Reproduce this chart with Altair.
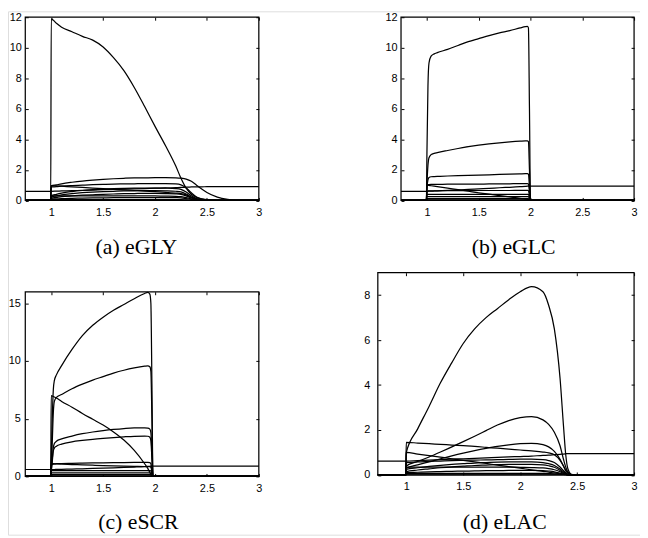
import altair as alt
import pandas as pd

W, H = 640, 530

XDOM = [0.75, 3.0]
XTICKS = [1, 1.5, 2, 2.5, 3]
CAPTIONS = ["(a) eGLY", "(b) eGLC", "(c) eSCR", "(d) eLAC"]

# ---------------- panel (a) eGLY ----------------
A_X = [0.75, 0.995, 1.0, 1.05, 1.1, 1.2, 1.3, 1.4, 1.5, 1.6, 1.7, 1.8, 1.9, 2.0,
       2.1, 2.2, 2.25, 2.3, 2.35, 2.4, 2.45, 2.5, 2.6, 2.7, 2.8, 3.0]
A_BIG = [0, 0, 11.9, 11.6, 11.35, 11.05, 10.75, 10.5, 10.05, 9.35, 8.5, 7.4, 6.15, 4.85,
         3.6, 2.25, 1.45, 0.8, 0.4, 0.2, 0.1, 0.05, 0.01, 0, 0, 0]
A_S15 = [0, 0, 0.95, 1.02, 1.09, 1.19, 1.27, 1.33, 1.38, 1.42, 1.45, 1.47, 1.48, 1.49,
         1.49, 1.48, 1.46, 1.4, 1.25, 1.0, 0.75, 0.52, 0.22, 0.07, 0.01, 0]
A_S11 = [0, 0, 0.88, 0.9, 0.93, 0.97, 1.0, 1.03, 1.05, 1.07, 1.08, 1.09, 1.1, 1.1,
         1.1, 1.08, 1.02, 0.82, 0.5, 0.22, 0.08, 0.02, 0, 0, 0, 0]
A_DESC = [0, 0, 0.97, 0.95, 0.93, 0.89, 0.85, 0.81, 0.77, 0.73, 0.69, 0.65, 0.61, 0.57,
          0.53, 0.48, 0.45, 0.36, 0.2, 0.08, 0.02, 0, 0, 0, 0, 0]
A_REF = [0.6, 0.6, 0.6, 0.61, 0.62, 0.64, 0.66, 0.68, 0.7, 0.72, 0.74, 0.76, 0.78, 0.8,
         0.82, 0.84, 0.85, 0.87, 0.88, 0.89, 0.89, 0.9, 0.9, 0.9, 0.9, 0.9]
A_S08 = [0, 0, 0.3, 0.4, 0.48, 0.58, 0.65, 0.7, 0.74, 0.77, 0.79, 0.8, 0.81, 0.81,
         0.8, 0.77, 0.72, 0.55, 0.3, 0.12, 0.04, 0.01, 0, 0, 0, 0]
A_S06 = [0, 0, 0.22, 0.3, 0.37, 0.45, 0.51, 0.55, 0.58, 0.6, 0.62, 0.63, 0.64, 0.64,
         0.63, 0.6, 0.56, 0.42, 0.22, 0.09, 0.03, 0, 0, 0, 0, 0]
A_S045 = [0, 0, 0.15, 0.2, 0.25, 0.3, 0.34, 0.37, 0.4, 0.42, 0.44, 0.45, 0.46, 0.46,
          0.45, 0.43, 0.4, 0.3, 0.16, 0.06, 0.02, 0, 0, 0, 0, 0]
A_S03 = [0, 0, 0.3, 0.3, 0.3, 0.3, 0.3, 0.3, 0.3, 0.3, 0.3, 0.3, 0.3, 0.29,
         0.28, 0.27, 0.25, 0.18, 0.1, 0.04, 0.01, 0, 0, 0, 0, 0]
A_S015 = [0, 0, 0.08, 0.1, 0.12, 0.14, 0.15, 0.16, 0.17, 0.18, 0.18, 0.19, 0.19, 0.19,
          0.19, 0.18, 0.17, 0.12, 0.06, 0.02, 0, 0, 0, 0, 0, 0]
A_S005 = [0, 0, 0.05, 0.05, 0.05, 0.05, 0.05, 0.05, 0.05, 0.05, 0.05, 0.05, 0.05, 0.05,
          0.05, 0.05, 0.05, 0.03, 0.01, 0, 0, 0, 0, 0, 0, 0]
A_ZERO = [0] * len(A_X)

# ---------------- panel (b) eGLC ----------------
B_X = [0.75, 0.995, 1.0, 1.01, 1.02, 1.04, 1.07, 1.1, 1.2, 1.3, 1.4, 1.5, 1.6, 1.7,
       1.8, 1.9, 1.95, 1.97, 1.98, 1.99, 2.0, 2.5, 3.0]
B_BIG = [0, 0, 3.0, 7.5, 9.0, 9.45, 9.6, 9.68, 9.9, 10.15, 10.4, 10.6, 10.8, 10.97,
         11.12, 11.3, 11.38, 11.4, 11.3, 6.0, 0, 0, 0]
B_S39 = [0, 0, 1.0, 2.3, 2.8, 3.0, 3.08, 3.13, 3.27, 3.4, 3.52, 3.62, 3.7, 3.77,
         3.83, 3.88, 3.9, 3.9, 3.85, 2.0, 0, 0, 0]
B_S175 = [0, 0, 0.8, 1.35, 1.5, 1.55, 1.56, 1.57, 1.6, 1.62, 1.64, 1.66, 1.68, 1.7,
          1.72, 1.74, 1.75, 1.75, 1.72, 0.9, 0, 0, 0]
B_S11 = [0, 0, 1.02, 1.03, 1.04, 1.05, 1.05, 1.05, 1.06, 1.06, 1.07, 1.07, 1.08, 1.08,
         1.09, 1.1, 1.1, 1.1, 1.08, 0.55, 0, 0, 0]
B_DIAG = [0, 0, 1.0, 0.99, 0.98, 0.96, 0.93, 0.9, 0.8, 0.7, 0.6, 0.5, 0.41, 0.32,
          0.23, 0.14, 0.09, 0.07, 0.06, 0.03, 0, 0, 0]
B_REF = [0.6, 0.6, 0.6, 0.6, 0.61, 0.61, 0.62, 0.63, 0.66, 0.69, 0.72, 0.76, 0.79, 0.83,
         0.86, 0.9, 0.92, 0.93, 0.93, 0.94, 0.94, 0.94, 0.94]
B_S065 = [0, 0, 0.6, 0.62, 0.63, 0.63, 0.63, 0.63, 0.64, 0.64, 0.64, 0.65, 0.65, 0.65,
          0.65, 0.66, 0.66, 0.66, 0.65, 0.3, 0, 0, 0]
B_S04 = [0, 0, 0.4, 0.4, 0.4, 0.4, 0.4, 0.4, 0.4, 0.4, 0.4, 0.4, 0.4, 0.4,
         0.4, 0.4, 0.4, 0.4, 0.4, 0.2, 0, 0, 0]
B_S025 = [0, 0, 0.25, 0.25, 0.25, 0.25, 0.25, 0.25, 0.25, 0.25, 0.25, 0.25, 0.25, 0.25,
          0.25, 0.25, 0.25, 0.25, 0.25, 0.12, 0, 0, 0]
B_S012 = [0, 0, 0.12, 0.12, 0.12, 0.12, 0.12, 0.12, 0.12, 0.12, 0.12, 0.12, 0.12, 0.12,
          0.12, 0.12, 0.12, 0.12, 0.12, 0.06, 0, 0, 0]
B_S004 = [0, 0, 0.04, 0.04, 0.04, 0.04, 0.04, 0.04, 0.04, 0.04, 0.04, 0.04, 0.04, 0.04,
          0.04, 0.04, 0.04, 0.04, 0.04, 0.02, 0, 0, 0]
B_ZERO = [0] * len(B_X)

# ---------------- panel (c) eSCR ----------------
C_X = [0.75, 0.995, 1.0, 1.01, 1.02, 1.03, 1.05, 1.1, 1.2, 1.3, 1.4, 1.5, 1.6, 1.7,
       1.8, 1.9, 1.93, 1.95, 1.96, 1.97, 1.98, 2.0, 2.5, 3.0]
C_BIG = [0, 0, 1.5, 5.0, 7.5, 8.3, 8.8, 9.6, 11.0, 12.2, 13.1, 13.8, 14.4, 14.9,
         15.4, 15.85, 15.95, 15.8, 15.0, 8.0, 0, 0, 0, 0]
C_S96 = [0, 0, 1.0, 3.0, 5.5, 6.5, 6.85, 7.1, 7.6, 8.0, 8.35, 8.65, 8.95, 9.2,
         9.4, 9.55, 9.58, 9.5, 9.1, 5.0, 0, 0, 0, 0]
C_DIAG = [0, 0, 7.0, 6.97, 6.93, 6.88, 6.8, 6.5, 6.0, 5.45, 4.95, 4.45, 3.85, 3.15,
          2.25, 1.1, 0.7, 0.35, 0.15, 0.05, 0, 0, 0, 0]
C_S42 = [0, 0, 0.5, 1.5, 2.5, 2.85, 3.05, 3.25, 3.5, 3.7, 3.85, 3.97, 4.07, 4.15,
         4.2, 4.2, 4.18, 4.1, 3.8, 2.0, 0, 0, 0, 0]
C_S35 = [0, 0, 0.4, 1.3, 2.2, 2.45, 2.62, 2.8, 3.0, 3.12, 3.22, 3.3, 3.37, 3.43,
         3.48, 3.5, 3.48, 3.4, 3.1, 1.5, 0, 0, 0, 0]
C_S12 = [0, 0, 1.0, 1.04, 1.06, 1.08, 1.1, 1.12, 1.14, 1.16, 1.17, 1.18, 1.19, 1.2,
         1.21, 1.22, 1.22, 1.2, 1.1, 0.5, 0, 0, 0, 0]
C_S10 = [0, 0, 1.1, 1.1, 1.1, 1.09, 1.08, 1.06, 1.03, 1.0, 0.97, 0.94, 0.92, 0.9,
         0.88, 0.86, 0.85, 0.84, 0.8, 0.4, 0, 0, 0, 0]
C_REF = [0.6, 0.6, 0.6, 0.6, 0.6, 0.6, 0.61, 0.62, 0.64, 0.66, 0.69, 0.72, 0.75, 0.78,
         0.81, 0.85, 0.87, 0.88, 0.89, 0.9, 0.9, 0.9, 0.9, 0.9]
C_S05 = [0, 0, 0.5, 0.5, 0.5, 0.5, 0.5, 0.5, 0.5, 0.5, 0.5, 0.5, 0.5, 0.5,
         0.5, 0.5, 0.5, 0.5, 0.48, 0.25, 0, 0, 0, 0]
C_S03 = [0, 0, 0.3, 0.3, 0.3, 0.3, 0.3, 0.3, 0.3, 0.3, 0.3, 0.3, 0.3, 0.3,
         0.3, 0.3, 0.3, 0.3, 0.29, 0.15, 0, 0, 0, 0]
C_S015 = [0, 0, 0.15, 0.15, 0.15, 0.15, 0.15, 0.15, 0.15, 0.15, 0.15, 0.15, 0.15, 0.15,
          0.15, 0.15, 0.15, 0.15, 0.14, 0.07, 0, 0, 0, 0]
C_S005 = [0, 0, 0.05, 0.05, 0.05, 0.05, 0.05, 0.05, 0.05, 0.05, 0.05, 0.05, 0.05, 0.05,
          0.05, 0.05, 0.05, 0.05, 0.05, 0.02, 0, 0, 0, 0]
C_ZERO = [0] * len(C_X)

# ---------------- panel (d) eLAC ----------------
D_X = [0.75, 0.995, 1.0, 1.1, 1.2, 1.3, 1.4, 1.5, 1.6, 1.7, 1.8, 1.9, 2.0, 2.1,
       2.2, 2.25, 2.3, 2.35, 2.38, 2.4, 2.42, 2.45, 2.5, 3.0]
D_BIG = [0, 0, 1.0, 2.05, 3.05, 4.1, 5.0, 5.85, 6.5, 7.0, 7.4, 7.8, 8.15, 8.38,
         8.15, 7.55, 6.5, 4.3, 2.2, 0.9, 0.25, 0.03, 0, 0]
D_S26 = [0, 0, 0.4, 0.6, 0.8, 1.02, 1.25, 1.48, 1.72, 1.97, 2.22, 2.42, 2.55, 2.6,
         2.45, 2.25, 1.9, 1.3, 0.7, 0.35, 0.12, 0.02, 0, 0]
D_S14 = [0, 0, 0.3, 0.45, 0.58, 0.72, 0.85, 0.97, 1.08, 1.18, 1.27, 1.34, 1.39, 1.41,
         1.35, 1.25, 1.05, 0.7, 0.4, 0.2, 0.08, 0.01, 0, 0]
D_S145 = [0, 0, 1.45, 1.42, 1.39, 1.36, 1.33, 1.3, 1.27, 1.23, 1.19, 1.15, 1.11, 1.07,
          1.02, 0.98, 0.9, 0.65, 0.4, 0.2, 0.08, 0.01, 0, 0]
D_DIAG = [0, 0, 1.0, 0.93, 0.86, 0.79, 0.72, 0.65, 0.58, 0.51, 0.44, 0.37, 0.3, 0.23,
          0.16, 0.12, 0.09, 0.05, 0.03, 0.02, 0.01, 0, 0, 0]
D_REF = [0.62, 0.62, 0.62, 0.64, 0.66, 0.68, 0.7, 0.72, 0.74, 0.76, 0.78, 0.8, 0.82, 0.84,
         0.87, 0.88, 0.9, 0.92, 0.93, 0.94, 0.95, 0.95, 0.95, 0.95]
D_S07 = [0, 0, 0.55, 0.58, 0.6, 0.62, 0.64, 0.65, 0.66, 0.67, 0.68, 0.69, 0.7, 0.7,
         0.68, 0.64, 0.55, 0.35, 0.2, 0.1, 0.04, 0, 0, 0]
D_S055 = [0, 0, 0.25, 0.32, 0.38, 0.43, 0.47, 0.5, 0.53, 0.55, 0.57, 0.58, 0.58, 0.58,
          0.55, 0.5, 0.42, 0.26, 0.14, 0.07, 0.02, 0, 0, 0]
D_S045 = [0, 0, 0.15, 0.22, 0.27, 0.32, 0.36, 0.39, 0.42, 0.44, 0.46, 0.47, 0.47, 0.47,
          0.45, 0.41, 0.34, 0.2, 0.1, 0.05, 0.01, 0, 0, 0]
D_S03 = [0, 0, 0.35, 0.35, 0.35, 0.35, 0.35, 0.35, 0.35, 0.35, 0.35, 0.35, 0.34, 0.33,
         0.31, 0.28, 0.23, 0.14, 0.07, 0.03, 0.01, 0, 0, 0]
D_S02 = [0, 0, 0.1, 0.12, 0.14, 0.15, 0.16, 0.17, 0.18, 0.19, 0.19, 0.2, 0.2, 0.2,
         0.19, 0.17, 0.14, 0.08, 0.04, 0.02, 0, 0, 0, 0]
D_S007 = [0, 0, 0.07, 0.07, 0.07, 0.07, 0.07, 0.07, 0.07, 0.07, 0.07, 0.07, 0.07, 0.07,
          0.07, 0.06, 0.05, 0.03, 0.02, 0.01, 0, 0, 0, 0]
D_ZERO = [0] * len(D_X)


def long_table(xs, series):
    rows = []
    for name, ys in series.items():
        assert len(ys) == len(xs), name
        for x, y in zip(xs, ys):
            rows.append({"x": x, "y": y, "s": name})
    return pd.DataFrame(rows)


dfA = long_table(A_X, {"big": A_BIG, "s15": A_S15, "s11": A_S11, "desc": A_DESC, "ref": A_REF,
                       "s08": A_S08, "s06": A_S06, "s045": A_S045, "s03": A_S03,
                       "s015": A_S015, "s005": A_S005, "zero": A_ZERO})
dfB = long_table(B_X, {"big": B_BIG, "s39": B_S39, "s175": B_S175, "s11": B_S11, "diag": B_DIAG,
                       "ref": B_REF, "s065": B_S065, "s04": B_S04, "s025": B_S025,
                       "s012": B_S012, "s004": B_S004, "zero": B_ZERO})
dfC = long_table(C_X, {"big": C_BIG, "s96": C_S96, "diag": C_DIAG, "s42": C_S42, "s35": C_S35,
                       "s12": C_S12, "s10": C_S10, "ref": C_REF, "s05": C_S05, "s03": C_S03,
                       "s015": C_S015, "s005": C_S005, "zero": C_ZERO})
dfD = long_table(D_X, {"big": D_BIG, "s26": D_S26, "s14": D_S14, "s145": D_S145, "diag": D_DIAG,
                       "ref": D_REF, "s07": D_S07, "s055": D_S055, "s045": D_S045,
                       "s03": D_S03, "s02": D_S02, "s007": D_S007, "zero": D_ZERO})

# panel geometry (pixel ranges inside the view)
PANELS = [
    (dfA, (17.5, 254.0), (191.5, 6.0), [0, 12], [0, 2, 4, 6, 8, 10, 12], 4),
    (dfB, (398.0, 634.0), (191.5, 6.0), [0, 12], [0, 2, 4, 6, 8, 10, 12], 4),
    (dfC, (17.5, 254.0), (471.0, 284.0), [0, 16], [0, 5, 10, 15], 5),
    (dfD, (374.5, 634.0), (469.5, 264.7), [0, 9], [0, 2, 4, 6, 8], 8),
]
CAPTION_POS = [(130, 245.5), (512, 245.5), (132, 524), (503, 524)]

TICK = 3
axis_style = dict(grid=False, domain=False, tickSize=TICK, tickColor="black", tickWidth=1,
                  labelFont="Liberation Sans", labelFontSize=11, labelColor="black",
                  labelFlush=False, labelOverlap=False, title=None)

layers = []
for df, xr, yr, ydom, yticks, ypad in PANELS:
    xs = alt.Scale(domain=XDOM, range=list(xr), nice=False, zero=False)
    ys = alt.Scale(domain=ydom, range=list(yr), nice=False, zero=False)
    lines = alt.Chart(df).mark_line(color="black", strokeWidth=1.25, interpolate="monotone").encode(
        x=alt.X("x:Q", scale=xs,
                axis=alt.Axis(orient="bottom", offset=yr[0] - TICK - H, values=XTICKS,
                              format="~g", labelPadding=6, **axis_style)),
        y=alt.Y("y:Q", scale=ys,
                axis=alt.Axis(orient="left", offset=-(xr[0] + TICK), values=yticks,
                              format="~g", labelPadding=ypad, **axis_style)),
        detail="s:N",
    )
    frame_df = pd.DataFrame({"x0": [XDOM[0]], "x1": [XDOM[1]], "y0": [ydom[0]], "y1": [ydom[1]]})
    frame = alt.Chart(frame_df).mark_rect(fillOpacity=0, stroke="black", strokeWidth=1.25).encode(
        x=alt.X("x0:Q", scale=xs,
                axis=alt.Axis(orient="top", offset=-(yr[1] + TICK), values=XTICKS,
                              labels=False, **axis_style)),
        x2="x1:Q",
        y=alt.Y("y0:Q", scale=ys,
                axis=alt.Axis(orient="right", offset=xr[1] - TICK - W, values=yticks,
                              labels=False, **axis_style)),
        y2="y1:Q",
    )
    layers += [lines, frame]

for cap, (cx, cy) in zip(CAPTIONS, CAPTION_POS):
    layers.append(
        alt.Chart(pd.DataFrame({"t": [cap]})).mark_text(
            font="Liberation Serif", fontSize=22, align="center", baseline="alphabetic",
            color="black").encode(text="t:N", x=alt.value(cx), y=alt.value(cy))
    )

chart = alt.layer(*layers).resolve_scale(x="independent", y="independent").resolve_axis(
    x="independent", y="independent").properties(
    width=W, height=H, autosize=alt.AutoSizeParams(type="none"), padding=0
).configure_view(stroke="transparent", strokeWidth=0).configure(background="white")

chart.save("out.html", embed_options={"renderer": "svg", "actions": False})
